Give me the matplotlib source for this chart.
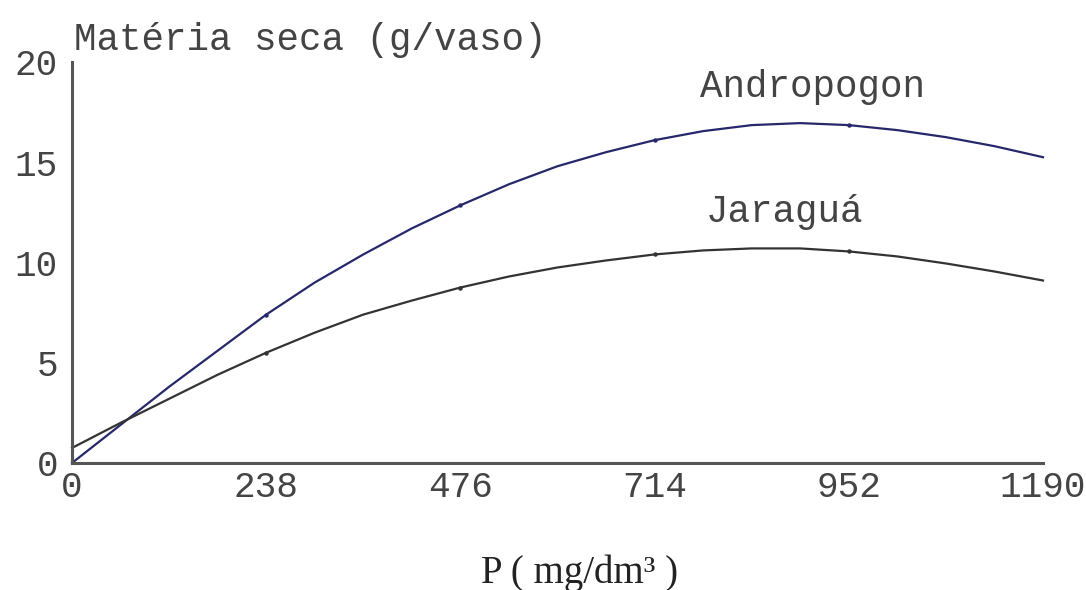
import numpy as np
import matplotlib.pyplot as plt

# P (mg/dm3) and dry matter
p = [0, 59.5, 119, 178.5, 238, 297.5, 357, 416.5, 476, 535.5, 595,
     654.5, 714, 773.5, 833, 892.5, 952, 1011.5, 1071, 1130.5, 1190]
andropogon = [0, 1.9, 3.8, 5.6, 7.4, 9.0, 10.4, 11.7, 12.85, 13.9, 14.8,
              15.5, 16.1, 16.55, 16.85, 16.95, 16.85, 16.6, 16.25, 15.8, 15.25]
jaragua = [0.75, 2.0, 3.2, 4.4, 5.5, 6.5, 7.4, 8.1, 8.75, 9.3, 9.75,
           10.1, 10.4, 10.6, 10.7, 10.7, 10.55, 10.3, 9.95, 9.55, 9.1]
xticks = [0, 238, 476, 714, 952, 1190]
yticks = [0, 5, 10, 15, 20]

mono = 'Liberation Mono'
fig = plt.figure(figsize=(10.86, 5.90), dpi=100)
ax = fig.add_axes([0.0663, 0.2153, 0.8941, 0.6797])

ax.plot(p, andropogon, c='#27276b', lw=1.6, marker='o', ms=2.2,
        markevery=[4, 8, 12, 16], clip_on=False)
ax.plot(p, jaragua, c='#333333', lw=1.6, marker='o', ms=2.2,
        markevery=[4, 8, 12, 16], clip_on=False)

ax.set_xlim(0, 1190)
ax.set_ylim(0, 20)
ax.set_xticks(xticks)
ax.set_yticks(yticks)
ax.set_xticklabels([str(t) for t in xticks], fontfamily=mono, fontsize=26, color='#444444')
ax.set_yticklabels([str(t) for t in yticks], fontfamily=mono, fontsize=26, color='#444444')
ax.tick_params(length=0)
ax.tick_params(axis='x', pad=5)
ax.tick_params(axis='y', pad=10)

for s in ['top', 'right']:
    ax.spines[s].set_visible(False)
for s in ['left', 'bottom']:
    ax.spines[s].set_color('#555555')
    ax.spines[s].set_linewidth(2.2)

ax.text(770, 18.75, 'Andropogon', fontfamily=mono, fontsize=27, color='#444444', va='center')
ax.text(777, 12.5, 'Jaraguá', fontfamily=mono, fontsize=27, color='#444444', va='center')

fig.text(74/1086, 1 - 40/590, 'Matéria seca (g/vaso)', fontfamily=mono,
         fontsize=27, color='#444444', va='center')
fig.text(580/1086, 1 - 573/590, 'P ( mg/dm³ )', fontfamily='Liberation Serif',
         fontsize=28, color='#222222', va='center', ha='center')

fig.savefig('out.png', dpi=100)
